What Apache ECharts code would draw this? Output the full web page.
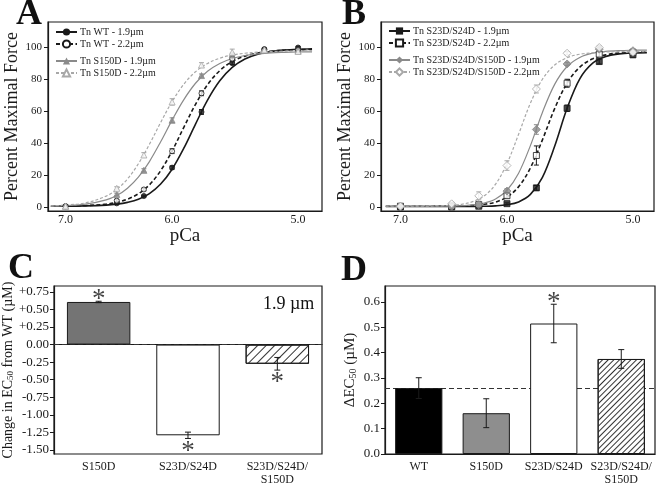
<!DOCTYPE html>
<html><head><meta charset="utf-8">
<script src="https://cdn.jsdelivr.net/npm/echarts@6/dist/echarts.min.js"></script>
<style>html,body{margin:0;padding:0;background:#fff}#c{width:656px;height:486px}</style>
</head><body><div id="c"></div>
<script>
// ---------- data ----------
const pCaPoints = [7.0, 6.5, 6.25, 6.0, 5.75, 5.5, 5.25, 5.0];
const pCaCurve = [7.15, 7.0, 6.8, 6.6, 6.5, 6.4, 6.3, 6.2, 6.1, 6.0, 5.9, 5.8, 5.7, 5.6, 5.5, 5.4, 5.3, 5.2, 5.1, 5.0, 4.9];
const pCaTicks = [7.0, 6.0, 5.0];
const forceTicks = [0, 20, 40, 60, 80, 100];

// Panel A
const wt19Mean = [0.5, 2.3, 6.9, 24.7, 59.6, 90.2, 99.0, 100.0];
const wt19Err = [0.3, 0.5, 0.5, 1.0, 1.5, 0.8, 0.5, 0.5];
const wt19Fit = [0.5, 0.55, 0.7, 1.2, 1.8, 2.9, 4.8, 8.4, 14.4, 23.7, 36.7, 52.0, 67.0, 79.1, 87.5, 92.8, 95.8, 97.5, 98.4, 98.9, 99.2];
const wt22Mean = [0.5, 4.0, 11.0, 35.0, 71.3, 93.0, 98.5, 98.5];
const wt22Err = [0.3, 0.8, 0.8, 1.5, 1.5, 1.5, 0.5, 0.5];
const wt22Fit = [0.5, 0.6, 0.9, 1.8, 2.9, 4.9, 8.3, 13.9, 22.8, 35.1, 49.8, 64.4, 76.7, 85.5, 91.2, 94.6, 96.6, 97.7, 98.3, 98.6, 98.8];
const s150d19Mean = [0.5, 7.9, 23.0, 54.4, 82.4, 95.4, 98.5, 98.0];
const s150d19Err = [0.3, 0.8, 1.0, 1.5, 1.0, 1.0, 0.5, 0.5];
const s150d19Fit = [0.6, 0.9, 1.8, 4.5, 7.2, 11.8, 18.7, 28.5, 40.9, 54.5, 67.2, 77.6, 85.1, 90.0, 93.1, 95.0, 96.0, 96.7, 97.0, 97.2, 97.3];
const s150d22Mean = [0.5, 11.7, 32.6, 65.9, 89.0, 97.0, 98.5, 97.5];
const s150d22Err = [0.5, 1.0, 1.5, 2.0, 1.5, 2.0, 1.0, 1.0];
const s150d22Fit = [0.7, 1.2, 2.6, 6.8, 11.0, 17.6, 27.1, 39.3, 53.0, 66.1, 76.9, 84.8, 90.0, 93.3, 95.3, 96.4, 97.1, 97.5, 97.7, 97.8, 97.9];

// Panel B
const dd19Mean = [0.0, 0.0, 0.5, 2.1, 12.0, 61.9, 91.2, 95.4];
const dd19Err = [0.3, 0.3, 0.3, 0.5, 1.5, 2.0, 1.5, 1.5];
const dd19Fit = [0.3, 0.3, 0.3, 0.3, 0.3, 0.3, 0.35, 0.45, 0.7, 1.4, 3.2, 7.9, 18.6, 38.1, 61.9, 80.4, 90.2, 94.4, 96.0, 96.6, 96.8];
const dd22Mean = [0.5, 0.5, 1.5, 7.1, 32.3, 77.6, 95.8, 97.0];
const dd22Err = [0.3, 0.3, 0.5, 1.5, 6.0, 2.5, 1.5, 1.0];
const dd22Fit = [0.5, 0.5, 0.5, 0.55, 0.6, 0.7, 1.0, 1.7, 3.1, 6.3, 12.7, 24.5, 42.1, 61.7, 77.7, 87.7, 92.9, 95.4, 96.6, 97.1, 97.3];
const ddd19Mean = [0.5, 0.5, 1.5, 10.0, 48.6, 89.7, 99.0, 98.0];
const ddd19Err = [0.3, 0.3, 0.5, 1.5, 3.0, 1.0, 1.0, 1.0];
const ddd19Fit = [0.5, 0.5, 0.5, 0.55, 0.65, 0.85, 1.3, 2.5, 5.0, 10.5, 21.2, 38.5, 59.3, 76.9, 88.1, 93.8, 96.5, 97.6, 98.1, 98.3, 98.4];
const ddd22Mean = [0.5, 2.0, 7.0, 26.0, 74.0, 96.4, 100.0, 97.0];
const ddd22Err = [0.3, 1.0, 2.5, 3.0, 2.5, 1.0, 1.0, 1.0];
const ddd22Fit = [0.5, 0.5, 0.55, 0.75, 1.1, 1.8, 3.5, 7.0, 14.3, 27.2, 45.6, 65.1, 80.1, 89.0, 93.6, 95.8, 96.7, 97.2, 97.4, 97.4, 97.5];

// Panel C
const cCategories = ['S150D', 'S23D/S24D', 'S23D/S24D/\nS150D'];
const cValues = [0.606, -1.29, -0.273];
const cErrors = [0.01, 0.045, 0.09];
const cStarY = [0.64, -1.53, -0.54];
const cTicks = [-1.5, -1.25, -1.0, -0.75, -0.5, -0.25, 0, 0.25, 0.5, 0.75];
const cRefLine = 0;

// Panel D
const dCategories = ['WT', 'S150D', 'S23D/S24D', 'S23D/S24D/\nS150D'];
const dValues = [0.26, 0.161, 0.515, 0.375];
const dErrors = [0.041, 0.057, 0.076, 0.037];
const dStarIndex = [2];
const dStarY = [0.598];
const dTicks = [0, 0.1, 0.2, 0.3, 0.4, 0.5, 0.6];
const dRefLine = 0.26;

// ---------- chart ----------
const serif = '"Liberation Serif", "DejaVu Serif", serif';
const ink = '#1a1a1a';
const grayS = '#8a8a8a';
const grayD = '#a8a8a8';

function zip2(a, b) { return a.map((v, i) => [v, b[i]]); }
function zip3(a, b, c) { return a.map((v, i) => [v, b[i], c[i]]); }

function errRender(color, capW) {
  return function (params, api) {
    const x = api.value(0), y = api.value(1), e = api.value(2);
    const hi = api.coord([x, y + e]), lo = api.coord([x, y - e]);
    const style = { stroke: color, lineWidth: 1 };
    return { type: 'group', children: [
      { type: 'line', shape: { x1: hi[0], y1: hi[1], x2: lo[0], y2: lo[1] }, style: style },
      { type: 'line', shape: { x1: hi[0] - capW, y1: hi[1], x2: hi[0] + capW, y2: hi[1] }, style: style },
      { type: 'line', shape: { x1: lo[0] - capW, y1: lo[1], x2: lo[0] + capW, y2: lo[1] }, style: style }
    ]};
  };
}

function condSeries(gi, name, fit, mean, err, st) {
  return [
    { type: 'line', name: name, xAxisIndex: gi, yAxisIndex: gi, data: zip2(pCaCurve, fit),
      smooth: 0.35, symbol: st.legendSym, symbolSize: 8, showSymbol: false, silent: true, z: 2,
      lineStyle: { color: st.color, width: st.width, type: st.dash },
      itemStyle: { color: st.color } },
    { type: 'custom', name: name + ' err', xAxisIndex: gi, yAxisIndex: gi, data: zip3(pCaPoints, mean, err),
      encode: { x: 0, y: 1 }, renderItem: errRender(st.color, 2.5), silent: true, z: 3 },
    { type: 'scatter', name: name + ' pts', xAxisIndex: gi, yAxisIndex: gi, data: zip2(pCaPoints, mean),
      symbol: st.sym, symbolSize: st.size, silent: true, z: 4,
      itemStyle: { color: st.fill, borderColor: st.color, borderWidth: 1 } }
  ];
}

function pcaX(gi, min, max) {
  return { type: 'log', logBase: 10, gridIndex: gi, inverse: true, min: min, max: max,
    axisLine: { show: true, onZero: false, lineStyle: { color: ink, width: 1.2 } },
    axisTick: { show: false },
    axisLabel: { customValues: pCaTicks, formatter: function (v) { return Number(v).toFixed(1); },
      fontFamily: serif, fontSize: 12, color: ink, margin: 3 },
    splitLine: { show: false },
    name: 'pCa', nameLocation: 'middle', nameGap: 15,
    nameTextStyle: { fontFamily: serif, fontSize: 19, color: ink } };
}
function forceY(gi) {
  return { type: 'value', gridIndex: gi, min: -2.5, max: 116,
    axisLine: { show: true, lineStyle: { color: ink, width: 1.2 } },
    axisTick: { show: true, length: 4, customValues: forceTicks, lineStyle: { color: ink } },
    axisLabel: { customValues: forceTicks, fontFamily: serif, fontSize: 11, color: ink, margin: 6 },
    splitLine: { show: false },
    name: 'Percent Maximal Force', nameLocation: 'middle', nameGap: 24, nameRotate: 90,
    nameTextStyle: { fontFamily: serif, fontSize: 18, color: ink } };
}

const hatchC = { symbol: 'rect', symbolSize: 1, color: '#333', dashArrayX: [1, 0], dashArrayY: [1, 5], rotation: -Math.PI / 4 };
const hatchD = { symbol: 'rect', symbolSize: 1, color: '#333', dashArrayX: [1, 0], dashArrayY: [1, 3], rotation: -Math.PI / 4 };

const cFills = [{ color: '#747474' }, { color: '#ffffff' }, { color: '#ffffff', decal: hatchC }];
const dFills = [{ color: '#000000' }, { color: '#8e8e8e' }, { color: '#ffffff' }, { color: '#ffffff', decal: hatchD }];

function catX(gi, cats) {
  return { type: 'category', gridIndex: gi, data: cats,
    axisLine: { show: true, lineStyle: { color: ink, width: 1.2 } },
    axisTick: { show: false },
    axisLabel: { interval: 0, fontFamily: serif, fontSize: 12, color: ink, margin: 6, lineHeight: 13 } };
}

const legendBase = { orient: 'vertical', itemWidth: 21, itemHeight: 9, itemGap: 2, selectedMode: false,
  textStyle: { fontFamily: serif, fontSize: 10, color: ink, padding: [0, 0, 0, -2] }, padding: 0 };

const starLabel = { show: true, position: 'inside', formatter: '*', fontFamily: serif, fontSize: 27, color: '#111' };

const option = {
  animation: false,
  backgroundColor: '#fff',
  grid: [
    { left: 48, top: 22, width: 274, height: 189, show: true, borderColor: ink, borderWidth: 1.2, backgroundColor: 'transparent' },
    { left: 381, top: 22, width: 273, height: 189, show: true, borderColor: ink, borderWidth: 1.2, backgroundColor: 'transparent' },
    { left: 51, top: 286, width: 271, height: 172, show: true, borderColor: ink, borderWidth: 1.2, backgroundColor: 'transparent' },
    { left: 385, top: 286, width: 270, height: 172, show: true, borderColor: ink, borderWidth: 1.2, backgroundColor: 'transparent' }
  ],
  legend: [
    Object.assign({}, legendBase, { left: 55, top: 27, data: ['Tn WT - 1.9µm', 'Tn WT - 2.2µm'] }),
    Object.assign({}, legendBase, { left: 55, top: 56, data: ['Tn S150D - 1.9µm', 'Tn S150D - 2.2µm'] }),
    Object.assign({}, legendBase, { left: 388, top: 26, data: ['Tn S23D/S24D - 1.9µm', 'Tn S23D/S24D - 2.2µm'] }),
    Object.assign({}, legendBase, { left: 388, top: 55, data: ['Tn S23D/S24D/S150D - 1.9µm', 'Tn S23D/S24D/S150D - 2.2µm'] })
  ],
  xAxis: [ pcaX(0, 4.83, 7.18), pcaX(1, 4.85, 7.2), catX(2, cCategories), catX(3, dCategories) ],
  yAxis: [
    forceY(0), forceY(1),
    { type: 'value', gridIndex: 2, min: -1.556, max: 0.833,
      axisLine: { show: true, lineStyle: { color: ink, width: 1.2 } },
      axisTick: { show: true, length: 4, customValues: cTicks, lineStyle: { color: ink } },
      axisLabel: { customValues: cTicks, fontFamily: serif, fontSize: 13, color: ink, margin: 5,
        formatter: function (v) { v = Math.round(v * 100) / 100; return v > 0 ? '+' + v.toFixed(2) : v.toFixed(2); } },
      splitLine: { show: false },
      name: 'Change in EC{s|50} from WT (µM)', nameLocation: 'middle', nameGap: 38, nameRotate: 90,
      nameTextStyle: { fontFamily: serif, fontSize: 14, color: ink,
        rich: { s: { fontFamily: serif, fontSize: 9, color: ink, verticalAlign: 'bottom', lineHeight: 9 } } } },
    { type: 'value', gridIndex: 3, min: 0, max: 0.663,
      axisLine: { show: true, lineStyle: { color: ink, width: 1.2 } },
      axisTick: { show: true, length: 4, customValues: dTicks, lineStyle: { color: ink } },
      axisLabel: { customValues: dTicks, fontFamily: serif, fontSize: 13, color: ink, margin: 5,
        formatter: function (v) { return Number(v).toFixed(1); } },
      splitLine: { show: false },
      name: 'ΔEC{s|50} (µM)', nameLocation: 'middle', nameGap: 27, nameRotate: 90,
      nameTextStyle: { fontFamily: serif, fontSize: 15, color: ink,
        rich: { s: { fontFamily: serif, fontSize: 10, color: ink, verticalAlign: 'bottom', lineHeight: 10 } } } }
  ],
  series: [].concat(
    condSeries(0, 'Tn WT - 1.9µm', wt19Fit, wt19Mean, wt19Err, { color: ink, width: 1.6, dash: 'solid', sym: 'circle', legendSym: 'circle', size: 5, fill: ink }),
    condSeries(0, 'Tn WT - 2.2µm', wt22Fit, wt22Mean, wt22Err, { color: ink, width: 1.6, dash: [4, 2.5], sym: 'circle', legendSym: 'emptyCircle', size: 5, fill: '#fff' }),
    condSeries(0, 'Tn S150D - 1.9µm', s150d19Fit, s150d19Mean, s150d19Err, { color: grayS, width: 1.2, dash: 'solid', sym: 'triangle', legendSym: 'triangle', size: 6, fill: grayS }),
    condSeries(0, 'Tn S150D - 2.2µm', s150d22Fit, s150d22Mean, s150d22Err, { color: grayD, width: 1.2, dash: [3, 2], sym: 'triangle', legendSym: 'emptyTriangle', size: 6, fill: '#fff' }),
    condSeries(1, 'Tn S23D/S24D - 1.9µm', dd19Fit, dd19Mean, dd19Err, { color: ink, width: 1.6, dash: 'solid', sym: 'rect', legendSym: 'rect', size: 6, fill: ink }),
    condSeries(1, 'Tn S23D/S24D - 2.2µm', dd22Fit, dd22Mean, dd22Err, { color: ink, width: 1.6, dash: [4, 2.5], sym: 'rect', legendSym: 'emptyRect', size: 6, fill: '#fff' }),
    condSeries(1, 'Tn S23D/S24D/S150D - 1.9µm', ddd19Fit, ddd19Mean, ddd19Err, { color: grayS, width: 1.2, dash: 'solid', sym: 'diamond', legendSym: 'diamond', size: 8, fill: grayS }),
    condSeries(1, 'Tn S23D/S24D/S150D - 2.2µm', ddd22Fit, ddd22Mean, ddd22Err, { color: grayD, width: 1.2, dash: [3, 2], sym: 'diamond', legendSym: 'emptyDiamond', size: 8, fill: '#fff' }),
    [
      { type: 'bar', xAxisIndex: 2, yAxisIndex: 2, barWidth: '71%', silent: true, z: 2,
        data: cValues.map((v, i) => ({ value: v, itemStyle: Object.assign({ borderColor: ink, borderWidth: 1 }, cFills[i]) })),
        markLine: { z: 1, silent: true, symbol: 'none', label: { show: false },
          lineStyle: { color: '#333', type: [5, 3], width: 1 }, data: [{ yAxis: cRefLine }] } },
      { type: 'custom', xAxisIndex: 2, yAxisIndex: 2, silent: true, z: 3,
        data: cValues.map((v, i) => [i, v, cErrors[i]]), encode: { x: 0, y: 1 }, renderItem: errRender(ink, 3) },
      { type: 'scatter', xAxisIndex: 2, yAxisIndex: 2, silent: true, z: 4, symbolSize: 1,
        itemStyle: { color: 'rgba(0,0,0,0)' },
        data: cStarY.map((y, i) => [i, y]), label: starLabel },
      { type: 'bar', xAxisIndex: 3, yAxisIndex: 3, barWidth: '70%', silent: true, z: 2,
        data: dValues.map((v, i) => ({ value: v, itemStyle: Object.assign({ borderColor: ink, borderWidth: 1 }, dFills[i]) })),
        markLine: { z: 1, silent: true, symbol: 'none', label: { show: false },
          lineStyle: { color: '#333', type: [5, 3], width: 1 }, data: [{ yAxis: dRefLine }] } },
      { type: 'custom', xAxisIndex: 3, yAxisIndex: 3, silent: true, z: 3,
        data: dValues.map((v, i) => [i, v, dErrors[i]]), encode: { x: 0, y: 1 }, renderItem: errRender(ink, 3) },
      { type: 'scatter', xAxisIndex: 3, yAxisIndex: 3, silent: true, z: 4, symbolSize: 1,
        itemStyle: { color: 'rgba(0,0,0,0)' },
        data: dStarIndex.map((idx, i) => [idx, dStarY[i]]), label: starLabel }
    ]
  ),
  graphic: [
    { type: 'text', left: 16, top: -3, style: { text: 'A', font: 'bold 36px "Liberation Serif"', fill: '#111' } },
    { type: 'text', left: 342, top: -3, style: { text: 'B', font: 'bold 36px "Liberation Serif"', fill: '#111' } },
    { type: 'text', left: 8, top: 251, style: { text: 'C', font: 'bold 36px "Liberation Serif"', fill: '#111' } },
    { type: 'text', left: 341, top: 253, style: { text: 'D', font: 'bold 36px "Liberation Serif"', fill: '#111' } },
    { type: 'text', left: 263, top: 295, style: { text: '1.9 µm', font: '18px "Liberation Serif"', fill: '#111' } }
  ]
};

const chart = echarts.init(document.getElementById('c'), null, { renderer: 'canvas' });
chart.setOption(option);
</script>
</body></html>
